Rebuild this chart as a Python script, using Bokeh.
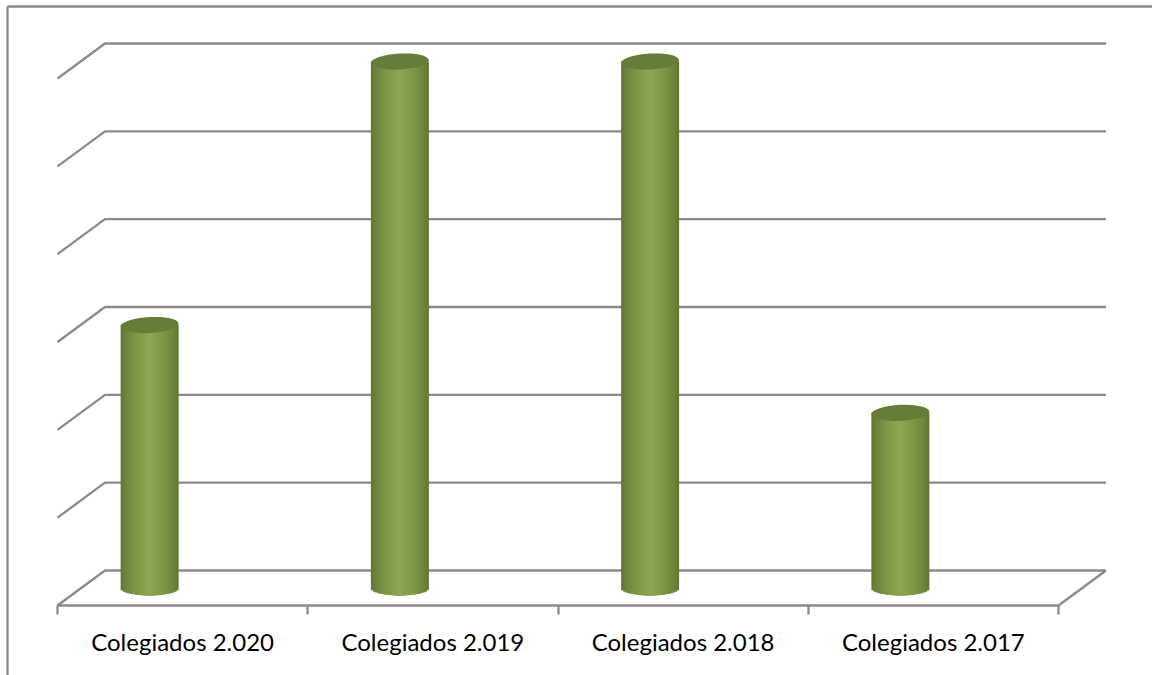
import numpy as np
from bokeh.embed import file_html
from bokeh.resources import INLINE
from bokeh.plotting import figure
from bokeh.models import LinearAxis, FixedTicker, Range1d

categories = ["Colegiados 2.020", "Colegiados 2.019", "Colegiados 2.018", "Colegiados 2.017"]
values = [3, 6, 6, 2]
grid_levels = [0, 1, 2, 3, 4, 5, 6]

W, H = 1152, 675
X0, Y0 = 57.0, 605.0      # pixel of the front axis origin
CAT_PX, UNIT_PX = 250.25, 87.83
DEPTH_X, DEPTH_Y = 47.5 / CAT_PX, 35.0 / UNIT_PX
GREY = "#8a8a8a"
LW = 2.3

def px_x(px):
    return (px - X0) / CAT_PX

def px_y(py):
    return (Y0 - py) / UNIT_PX

p = figure(width=W, height=H, output_backend="svg", toolbar_location=None,
           x_axis_type=None, y_axis_type=None, min_border=0,
           x_range=Range1d(px_x(0), px_x(W)), y_range=Range1d(px_y(H), px_y(0)),
           outline_line_color=None, background_fill_color="white",
           border_fill_color="white")
p.grid.visible = False

n = len(categories)
# chart border (runs off the window on the right and bottom)
p.line([px_x(7), px_x(7)], [px_y(H + 6), px_y(6)], line_color=GREY, line_width=LW)
p.line([px_x(7), px_x(W + 6)], [px_y(6), px_y(6)], line_color=GREY, line_width=LW)

# back-wall grid with the side wall segment
p.multi_line([[0, DEPTH_X, n + DEPTH_X] for _ in grid_levels],
             [[v, v + DEPTH_Y, v + DEPTH_Y] for v in grid_levels],
             line_color=GREY, line_width=LW)
# floor right edge
p.line([n, n + DEPTH_X], [0, DEPTH_Y], line_color=GREY, line_width=LW)

axis = LinearAxis(fixed_location=0, bounds=(0, n),
                  ticker=FixedTicker(ticks=[i + 0.5 for i in range(n)],
                                     minor_ticks=list(range(n + 1))),
                  major_label_overrides={i + 0.5: c for i, c in enumerate(categories)},
                  major_tick_line_color=None, major_tick_in=0, major_tick_out=0,
                  minor_tick_line_color=GREY, minor_tick_line_width=LW,
                  minor_tick_in=0, minor_tick_out=9,
                  axis_line_color=GREY, axis_line_width=LW,
                  major_label_text_font="Lato", major_label_text_font_size="24px",
                  major_label_text_color="#000000", major_label_standoff=12)
p.add_layout(axis, "below")

# cylinders: nested bands, outermost (darkest) first
BAR_W_PX = 58
LEVELS = 14
BAR_OFFSET = 0.5 - 33 / CAT_PX
BASE = 17.0 / UNIT_PX
HALF_H = 8.0 / UNIT_PX
BOTTOM_H = 7.0 / UNIT_PX
half_w = BAR_W_PX / 2 / CAT_PX
EDGE = np.array([0x5c, 0x70, 0x2e])
MID = np.array([0x8c, 0xa8, 0x52])

def mix(t):
    c = EDGE + (MID - EDGE) * t ** 0.6
    return "#%02x%02x%02x" % tuple(int(round(x)) for x in c)

centers = [i + BAR_OFFSET for i in range(n)]
for cx, v in zip(centers, values):
    for lv in range(LEVELS):
        u = 1 - lv / LEVELS           # half width fraction of this band
        u_in = 1 - (lv + 1) / LEVELS
        arc = BOTTOM_H * np.sqrt(1 - ((u + u_in) / 2) ** 2)
        p.quad(left=[cx - u * half_w], right=[cx + u * half_w],
               bottom=[BASE - arc], top=[BASE + v],
               fill_color=mix(1 - (u + u_in) / 2), fill_alpha=1.0, line_color=None)

# top cap drawn over the body
p.ellipse(x=centers, y=[BASE + v for v in values], width=2 * half_w, height=2 * HALF_H,
          angle=0.05, fill_color="#667d3a", fill_alpha=1.0, line_color=None)

open("out.html", "w").write(file_html(p, INLINE))
